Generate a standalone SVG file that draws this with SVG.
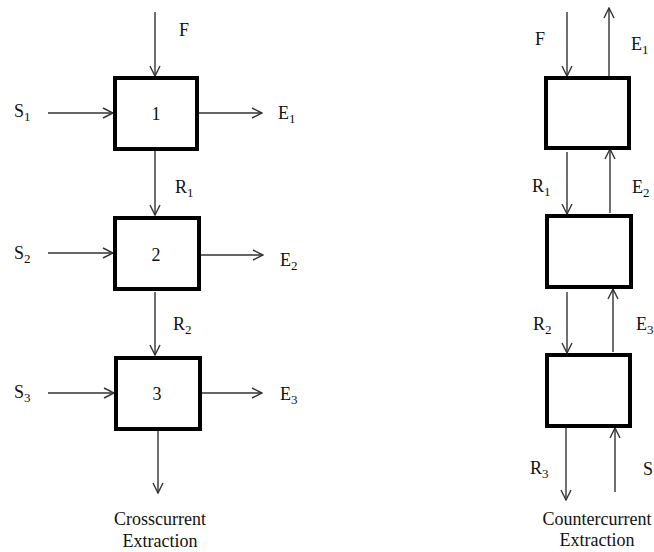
<svg xmlns="http://www.w3.org/2000/svg" width="654" height="552" viewBox="0 0 654 552">
  <style>
    .box { fill: #ffffff; stroke: #000000; stroke-width: 4; }
    .flow { fill: none; stroke: #333333; stroke-width: 1.4; marker-end: url(#open); }
    text { font-family: "Liberation Serif", "Times New Roman", serif; font-size: 18px; fill: #111111; }
    .sub { font-size: 13px; }
    .caption { font-size: 18px; text-anchor: middle; }
    .num { text-anchor: middle; }
  </style>
  <defs>
    <marker id="open" viewBox="0 0 12 12" refX="11" refY="6" markerWidth="12" markerHeight="12" markerUnits="userSpaceOnUse" orient="auto">
      <path d="M1,1 L11,6 L1,11" fill="none" stroke="#333333" stroke-width="1.4"/>
    </marker>
  </defs>
  <rect width="654" height="552" fill="#ffffff"/>

  <!-- connectors -->
  <g id="connectors">
    <!-- crosscurrent cascade -->
    <line class="flow" x1="155" y1="12" x2="155" y2="76"/>
    <line class="flow" x1="48" y1="113" x2="113" y2="113"/>
    <line class="flow" x1="199" y1="113" x2="262" y2="113"/>
    <line class="flow" x1="155" y1="151" x2="155" y2="215"/>
    <line class="flow" x1="48" y1="253" x2="113" y2="253"/>
    <line class="flow" x1="200" y1="255" x2="263" y2="255"/>
    <line class="flow" x1="155" y1="292" x2="155" y2="355"/>
    <line class="flow" x1="48" y1="393" x2="114" y2="393"/>
    <line class="flow" x1="201" y1="393" x2="262" y2="393"/>
    <line class="flow" x1="158" y1="431" x2="158" y2="493"/>
    <!-- countercurrent cascade -->
    <line class="flow" x1="567" y1="12" x2="567" y2="76"/>
    <line class="flow" x1="609" y1="76" x2="609" y2="8"/>
    <line class="flow" x1="567" y1="152" x2="567" y2="214"/>
    <line class="flow" x1="610" y1="213" x2="610" y2="149"/>
    <line class="flow" x1="567" y1="292" x2="567" y2="353"/>
    <line class="flow" x1="613" y1="352" x2="613" y2="289"/>
    <line class="flow" x1="566" y1="428" x2="566" y2="500"/>
    <line class="flow" x1="615" y1="492" x2="615" y2="428"/>
  </g>

  <!-- crosscurrent stages -->
  <g id="stage1">
    <rect class="box" x="115" y="78" width="82" height="71"/>
    <text class="num" x="156" y="120">1</text>
  </g>
  <g id="stage2">
    <rect class="box" x="115" y="218" width="84" height="71"/>
    <text class="num" x="156" y="261">2</text>
  </g>
  <g id="stage3">
    <rect class="box" x="116" y="358" width="84" height="71"/>
    <text class="num" x="157" y="400">3</text>
  </g>

  <!-- countercurrent stages -->
  <g id="ccStage1">
    <rect class="box" x="546" y="78" width="83" height="70"/>
  </g>
  <g id="ccStage2">
    <rect class="box" x="547" y="216" width="84" height="71"/>
  </g>
  <g id="ccStage3">
    <rect class="box" x="547" y="355" width="83" height="71"/>
  </g>

  <!-- stream labels, crosscurrent -->
  <g id="labels-cross">
    <text x="179" y="36">F</text>
    <text x="14" y="117">S<tspan class="sub" dy="4">1</tspan></text>
    <text x="278" y="119">E<tspan class="sub" dy="4">1</tspan></text>
    <text x="175" y="193">R<tspan class="sub" dy="4">1</tspan></text>
    <text x="14" y="259">S<tspan class="sub" dy="4">2</tspan></text>
    <text x="280" y="266">E<tspan class="sub" dy="4">2</tspan></text>
    <text x="173" y="330">R<tspan class="sub" dy="4">2</tspan></text>
    <text x="14" y="398">S<tspan class="sub" dy="4">3</tspan></text>
    <text x="280" y="400">E<tspan class="sub" dy="4">3</tspan></text>
    <text class="caption" x="160" y="525">Crosscurrent</text>
    <text class="caption" x="160" y="547">Extraction</text>
  </g>

  <!-- stream labels, countercurrent -->
  <g id="labels-counter">
    <text x="535" y="45">F</text>
    <text x="631" y="50">E<tspan class="sub" dy="4">1</tspan></text>
    <text x="532" y="192">R<tspan class="sub" dy="4">1</tspan></text>
    <text x="632" y="193">E<tspan class="sub" dy="4">2</tspan></text>
    <text x="533" y="330">R<tspan class="sub" dy="4">2</tspan></text>
    <text x="636" y="330">E<tspan class="sub" dy="4">3</tspan></text>
    <text x="530" y="474">R<tspan class="sub" dy="4">3</tspan></text>
    <text x="643" y="475">S</text>
    <text class="caption" x="597" y="525">Countercurrent</text>
    <text class="caption" x="597" y="546">Extraction</text>
  </g>
</svg>
